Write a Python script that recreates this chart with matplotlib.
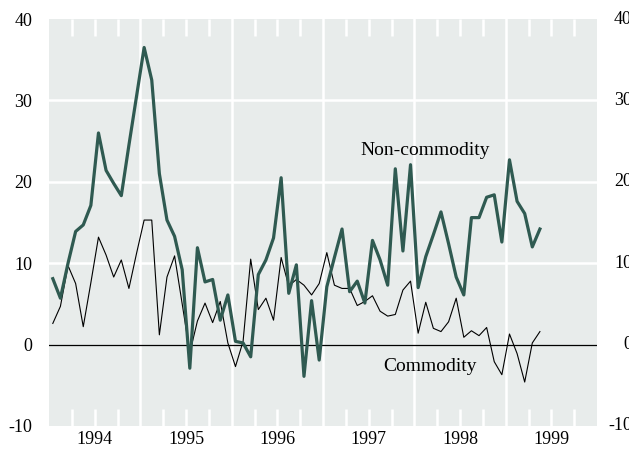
import matplotlib
matplotlib.use("Agg")
import matplotlib.pyplot as plt
import numpy as np

# Monthly data, Jan 1994 - May 1999
start_year = 1994
non_commodity = [8.1, 5.7, 10.0, 13.9, 14.7, 17.1, 26.0, 21.4, 19.8, 18.3, 24.5, 30.5,
                 36.5, 32.5, 21.0, 15.3, 13.3, 9.2, -2.9, 11.9, 7.7, 8.0, 3.0, 6.1,
                 0.4, 0.2, -1.5, 8.6, 10.4, 13.1, 20.5, 6.3, 9.8, -3.9, 5.4, -1.9,
                 7.1, 10.7, 14.2, 6.5, 7.8, 5.1, 12.8, 10.4, 7.3, 21.6, 11.5, 22.1,
                 7.0, 10.8, 13.5, 16.3, 12.4, 8.3, 6.1, 15.6, 15.6, 18.1, 18.4, 12.6,
                 22.7, 17.6, 16.1, 12.0, 14.2]
commodity = [2.6, 4.7, 9.7, 7.5, 2.2, 7.6, 13.2, 11.0, 8.3, 10.4, 6.9, 11.2,
             15.3, 15.3, 1.2, 8.3, 10.9, 5.0, -1.0, 2.9, 5.1, 2.7, 5.3, 0.2,
             -2.7, 0.4, 10.5, 4.3, 5.7, 3.0, 10.7, 7.2, 8.0, 7.3, 6.1, 7.5,
             11.3, 7.3, 6.9, 6.9, 4.8, 5.3, 6.0, 4.1, 3.5, 3.7, 6.7, 7.8,
             1.4, 5.2, 2.0, 1.6, 2.8, 5.7, 0.9, 1.7, 1.1, 2.1, -2.1, -3.7,
             1.3, -1.1, -4.6, 0.2, 1.6]
year_labels = ["1994", "1995", "1996", "1997", "1998", "1999"]
y_ticks = [-10, 0, 10, 20, 30, 40]

t = start_year + (np.arange(len(non_commodity)) + 0.5) / 12.0

FONT = "Liberation Serif"
BG = "#e8eceb"
GREEN = "#2f5a51"

fig = plt.figure(figsize=(6.29, 4.5), dpi=100)
ax = fig.add_axes([49 / 629, 24 / 450, 548 / 629, 407 / 450])
ax.set_facecolor(BG)
for s in ax.spines.values():
    s.set_visible(False)

ax.set_xlim(1994, 2000)
ax.set_ylim(-10, 40)

# horizontal grid
for yv in [10, 20, 30]:
    ax.axhline(yv, color="white", lw=1.8, zorder=1)
# year lines
for yr in range(1995, 2000):
    ax.axvline(yr, color="white", lw=1.8, zorder=1)
# quarterly ticks
for yr in range(1994, 2000):
    for q in (0.25, 0.5, 0.75):
        ax.plot([yr + q, yr + q], [40, 40 - 2.1], color="white", lw=1.8, zorder=1, solid_capstyle="butt")
        ax.plot([yr + q, yr + q], [-10, -10 + 2.1], color="white", lw=1.8, zorder=1, solid_capstyle="butt")

ax.axhline(0, color="black", lw=0.9, zorder=2)

ax.plot(t, commodity, color="black", lw=0.8, zorder=3)
ax.plot(t, non_commodity, color=GREEN, lw=2.3, zorder=4)

ax.set_xticks([])
ax.set_yticks(y_ticks)
ax.set_yticklabels([str(v) for v in y_ticks], fontfamily=FONT, fontsize=13)
ax.tick_params(axis="y", length=0, pad=12)

# right labels (partly cut by the figure edge, as in the original)
for v in y_ticks:
    ax.text(583 / 548, (v + 10) / 50, str(v), transform=ax.transAxes, ha="right", va="center",
            fontfamily=FONT, fontsize=13)

for i, lab in enumerate(year_labels):
    ax.text(1994 + i + 0.5, -10.6, lab, ha="center", va="top",
            fontfamily=FONT, fontsize=13)

ax.text(1998.12, 23.3, "Non-commodity", ha="center", va="baseline", fontfamily=FONT, fontsize=14, zorder=5)
ax.text(1998.17, -3.2, "Commodity", ha="center", va="baseline", fontfamily=FONT, fontsize=14, zorder=5)

fig.savefig("out.png", dpi=100)
